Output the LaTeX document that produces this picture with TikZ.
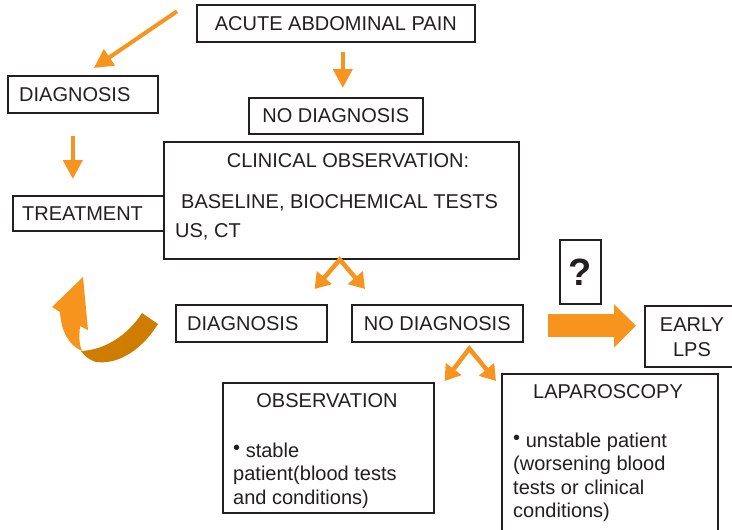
\documentclass[tikz,border=0pt]{standalone}
\usepackage{fontspec}
\setmainfont{Liberation Sans}
\usetikzlibrary{arrows.meta}
\definecolor{flow}{RGB}{247,148,29}
\definecolor{flowdark}{RGB}{206,125,0}
\definecolor{frame}{RGB}{35,31,32}
\newcommand{\dotmark}{\raisebox{3pt}{\textbullet}}
\tikzset{
  txt/.style={inner sep=0pt, text=frame, font=\fontsize{20}{23.5}\selectfont},
  box/.style={txt, draw=frame, line width=1.6pt, fill=white, anchor=north west},
  arr/.style={draw=flow, line width=4pt, -{Triangle[length=19pt,width=19pt]}},
  fork/.style={draw=flow, line width=4.5pt, line join=miter,
    {Triangle[length=15pt,width=19pt]}-{Triangle[length=15pt,width=19pt]}},
  bigarr/.style={draw=flow, line width=23pt, -{Triangle[length=22pt,width=42pt]}}
}
\begin{document}
\begin{tikzpicture}[x=1pt,y=-1pt]
            \useasboundingbox (0,0) rectangle (732,530);
            \node[box, minimum width=278, minimum height=37] (acute) at (196,4) {ACUTE ABDOMINAL PAIN};
            \node[box, minimum width=150, minimum height=37] (diagA) at (7,75) {};
            \node[txt, anchor=west] at ([xshift=12pt]diagA.west) {DIAGNOSIS};
            \node[box, minimum width=174, minimum height=36] (nodiagA) at (248,97) {NO DIAGNOSIS};
            \node[box, minimum width=158, minimum height=35] (treat) at (12,195) {};
            \node[txt, anchor=west] at ([xshift=10pt]treat.west) {TREATMENT};
            \node[box, minimum width=355, minimum height=117] (clin) at (163,141) {};
            \node[txt, anchor=base] at (348,167) {CLINICAL OBSERVATION:};
            \node[txt, anchor=base west] at (181,208) {BASELINE, BIOCHEMICAL TESTS};
            \node[txt, anchor=base west] at (175,237) {US, CT};
            \node[box, minimum width=151, minimum height=37] (diagB) at (175,304) {};
            \node[txt, anchor=west] at ([xshift=12pt]diagB.west) {DIAGNOSIS};
            \node[box, minimum width=171, minimum height=37] (nodiagB) at (351,304) {NO DIAGNOSIS};
            \node[box, minimum width=41, minimum height=64, font=\fontsize{38}{40}\selectfont\bfseries] (quest) at (559,239) {?};
            \node[box, minimum width=96, minimum height=61] (early) at (644,305) {};
            \node[txt, align=center, font=\fontsize{20}{25}\selectfont] at (692,337) {EARLY\\LPS};
            \node[box, minimum width=211, minimum height=130] (obs) at (222,382) {};
            \node[txt, anchor=base] at (327,407) {OBSERVATION};
            \node[txt, anchor=north west, align=left] at (233,442.5) {\dotmark{} stable\\patient(blood tests\\and conditions)};
            \node[box, minimum width=216, minimum height=160] (lap) at (501,373) {};
            \node[txt, anchor=base] at (608,398) {LAPAROSCOPY};
            \node[txt, anchor=north west, align=left] at (513,432.5) {\dotmark{} unstable patient\\(worsening blood\\tests or clinical\\conditions)};
            \draw[arr] ([xshift=-19pt,yshift=12pt]acute.west) -- ([xshift=11pt,yshift=7pt]diagA.north);
            \draw[arr] ([xshift=7pt,yshift=-9pt]acute.south) -- ([xshift=7pt,yshift=9pt]nodiagA.north);
            \draw[arr] ([xshift=-10pt,yshift=-22pt]diagA.south) -- ([xshift=-19pt,yshift=16pt]treat.north);
            \draw[fork] ([xshift=-13pt,yshift=15pt]diagB.north east) -- ([xshift=-1.5pt]clin.south) -- ([xshift=14pt,yshift=15pt]nodiagB.north west);
            \draw[fork] ([xshift=10pt,yshift=1pt]obs.north east) -- ([xshift=32pt,yshift=-6pt]nodiagB.south) -- ([xshift=-5pt,yshift=-8pt]lap.north west);
            \draw[bigarr] ([xshift=24pt,yshift=-2.5pt]nodiagB.east) -- ([xshift=-8pt,yshift=10.5pt]early.west);
            \fill[flowdark] (81,351) .. controls (105,350) and (128,335) .. (142,313) -- (158,324)
              .. controls (143,348) and (120,365) .. (96,362) .. controls (90,360) and (85,357) .. (81,351) -- cycle;
            \fill[flow] (83,277) -- (88,330) -- (80,326) .. controls (79,336) and (79,344) .. (82,351)
              .. controls (68,345) and (61,330) .. (60,312) -- (52,307) -- cycle;
        \end{tikzpicture}
\end{document}
